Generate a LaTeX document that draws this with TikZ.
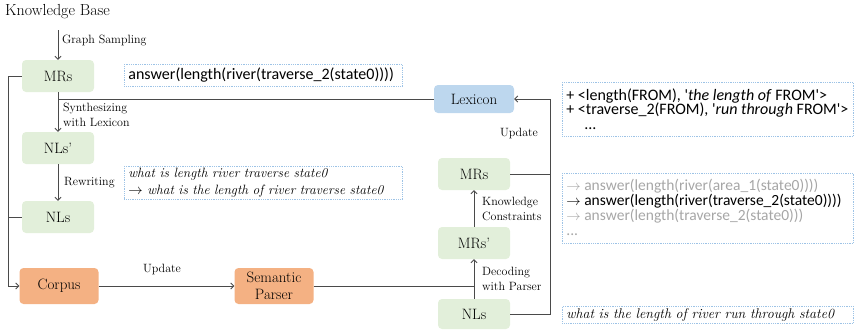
\documentclass[tikz,border=0pt]{standalone}
\usepackage{fontspec}
\newfontfamily\codefont{Carlito}
\usetikzlibrary{arrows.meta}
\definecolor{mrgreen}{HTML}{E2EFDA}
\definecolor{corpusorange}{HTML}{F4B183}
\definecolor{lexblue}{HTML}{BDD7EE}
\definecolor{notebord}{HTML}{9DC3E6}
\definecolor{faded}{HTML}{A6A6A6}
\definecolor{wire}{HTML}{4A4A4A}
\begin{document}
\begin{tikzpicture}[x=1pt,y=-1pt,
  greenbox/.style={rounded corners=4pt, fill=mrgreen, minimum width=72pt, minimum height=32pt,
    inner sep=0pt, font=\fontsize{15}{17}\selectfont},
  orangebox/.style={rounded corners=4pt, fill=corpusorange, minimum width=79pt, minimum height=36pt,
    inner sep=0pt, align=center, font=\fontsize{15}{17}\selectfont},
  lexbox/.style={rounded corners=4pt, fill=lexblue, minimum width=80pt, minimum height=28pt,
    inner sep=0pt, font=\fontsize{15}{17}\selectfont},
  notebox/.style={draw=notebord, densely dotted, line width=0.8pt, anchor=north west,
    inner xsep=4pt, inner ysep=0pt, align=left},
  steplabel/.style={font=\fontsize{12}{14.5}\selectfont, align=left, anchor=west, inner sep=0pt},
  wireline/.style={draw=wire, line width=0.9pt},
  arrowline/.style={wireline, -{Straight Barb[length=3pt,width=6pt]}},
]
\useasboundingbox (0,0) rectangle (856,330);

% ---------- left column: data synthesis ----------
\node[anchor=west, inner sep=0pt, font=\fontsize{16}{18}\selectfont] (kb) at (5,12) {Knowledge Base};
\coordinate (kbout) at (58,30);
\node[greenbox] (mrs)   at (58,76)  {MRs};
\node[greenbox] (nlsp)  at (58,148) {NLs'};
\node[greenbox] (nls)   at (58,217) {NLs};
\node[orangebox] (corpus) at (59,286) {Corpus};
\node[orangebox] (parser) at (274,286) {Semantic\\Parser};

% ---------- right column: parsing and lexicon learning ----------
\node[lexbox]   (lex)   at (474,99)  {Lexicon};
\node[greenbox] (rmrs)  at (474,174) {MRs};
\node[greenbox] (rmrsp) at (474,243) {MRs'};
\node[greenbox, minimum height=30pt] (rnls)  at (474,314) {NLs};

% ---------- example notes ----------
\node[notebox, text width=270pt, minimum height=22pt, font=\codefont\fontsize{16}{17}\selectfont]
  (ex1) at (124,64) {answer(length(river(traverse\_2(state0))))};
\node[notebox, text width=270pt, minimum height=33pt, font=\itshape\fontsize{13.5}{17}\selectfont]
  (ex2) at (124,166) {what is length river traverse state0\\$\rightarrow$ what is the length of river traverse state0};
\node[notebox, font=\codefont\fontsize{16}{14.8}\selectfont] (ex3) at (562,82)
  {\parbox[t][54pt][t]{283pt}{\vspace{6pt}%
   + <length(FROM), '\textit{the length of} FROM'>\\
   + <traverse\_2(FROM), '\textit{run through} FROM'>\\
   \hspace*{18pt}...}};
\node[notebox, font=\codefont\fontsize{15.5}{14.8}\selectfont] (ex4) at (562,173)
  {\parbox[t][70pt][t]{283pt}{\vspace{6pt}%
   {\color{faded}$\rightarrow$ answer(length(river(area\_1(state0))))}\\
   $\rightarrow$ answer(length(river(traverse\_2(state0))))\\
   {\color{faded}$\rightarrow$ answer(length(traverse\_2(state0)))}\\
   {\color{faded}...}}};
\node[notebox, text width=283pt, minimum height=17pt, font=\itshape\fontsize{14}{15}\selectfont]
  (ex5) at (562,306) {what is the length of river run through state0};

% ---------- connectors ----------
\draw[arrowline] (kbout) -- (mrs.north);
\node[steplabel] at (62,41) {Graph Sampling};

\draw[arrowline] (mrs.south) -- (nlsp.north);
\draw[wireline] (lex.west) -- (lex.west -| mrs);
\node[steplabel] at (63,115) {Synthesizing\\with Lexicon};

\draw[arrowline] (nlsp.south) -- (nls.north);
\node[steplabel] at (64,183) {Rewriting};

\coordinate (leftbus) at (8,76);
\draw[arrowline] (mrs.west) -- (leftbus) |- (corpus.west);
\draw[wireline] (nls.west) -- (nls.west -| leftbus);

\draw[arrowline] (corpus.east) -- (parser.west);
\node[steplabel, anchor=center] at (162,269) {Update};

\draw[wireline] (parser.east) -- (parser.east -| rnls);
\draw[arrowline] (rnls.north) -- (rmrsp.south);
\node[steplabel] at (482,279) {Decoding\\with Parser};
\draw[arrowline] (rmrsp.north) -- (rmrs.south);
\node[steplabel] at (482,209) {Knowledge\\Constraints};

\coordinate (rightbus) at (550,314);
\draw[arrowline] (rnls.east) -- (rightbus) |- (lex.east);
\draw[wireline] (rmrs.east) -- (rmrs.east -| rightbus);
\node[steplabel, anchor=center] at (519,133) {Update};
\end{tikzpicture}
\end{document}
